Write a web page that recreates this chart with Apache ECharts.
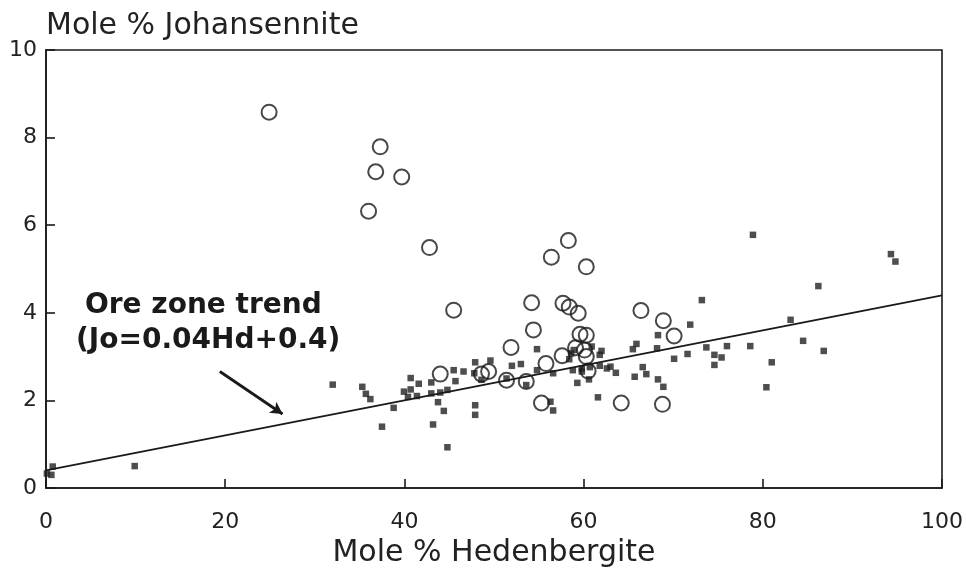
<!DOCTYPE html>
<html>
<head>
<meta charset="utf-8">
<script src="https://cdn.jsdelivr.net/npm/echarts@6/dist/echarts.min.js"></script>
<style>
  html, body { margin: 0; padding: 0; background: #fff; }
  #main { width: 966px; height: 577px; }
</style>
</head>
<body>
<div id="main"></div>
<script>
// open circles: [Hd, Jo]
const circlePts = [
  [24.9, 8.58], [37.3, 7.79], [36.8, 7.22], [39.7, 7.10], [36.0, 6.32], [42.8, 5.49],
  [58.3, 5.65], [56.4, 5.27], [60.3, 5.05],
  [45.5, 4.06], [44.0, 2.60],
  [54.2, 4.23], [57.7, 4.22], [58.4, 4.13], [59.4, 3.99], [66.4, 4.05], [68.9, 3.82],
  [54.4, 3.61], [59.6, 3.51], [60.3, 3.49], [70.1, 3.47],
  [51.9, 3.21], [59.1, 3.20], [60.1, 3.15], [60.3, 3.0], [57.6, 3.02], [55.8, 2.84], [60.5, 2.67],
  [48.6, 2.60], [49.4, 2.66], [51.4, 2.46], [53.6, 2.43],
  [55.3, 1.94], [64.2, 1.94], [68.8, 1.91]
];

// filled squares: [Hd, Jo]
const squarePts = [
  [0.1, 0.33], [0.6, 0.30], [0.75, 0.49], [9.9, 0.50],
  [32.0, 2.36], [35.3, 2.31], [35.7, 2.15], [36.2, 2.03], [38.8, 1.83], [37.5, 1.40],
  [40.7, 2.51], [41.6, 2.38], [39.95, 2.20], [40.7, 2.25], [40.4, 2.08], [41.4, 2.10],
  [43.0, 2.41], [43.0, 2.16], [44.0, 2.18], [44.8, 2.24], [43.75, 1.96], [44.4, 1.76], [43.2, 1.45], [44.8, 0.93],
  [45.5, 2.69], [46.6, 2.66], [45.7, 2.44], [47.9, 2.87], [49.6, 2.91], [47.8, 2.62], [48.6, 2.47],
  [47.9, 1.89], [47.9, 1.67],
  [52.0, 2.79], [53.0, 2.83], [54.8, 3.17], [54.8, 2.69], [51.4, 2.50], [53.6, 2.35],
  [56.6, 2.62], [56.3, 1.97], [56.6, 1.77],
  [58.6, 3.07], [58.4, 2.94], [58.9, 3.15], [58.8, 2.69], [59.3, 2.40], [59.8, 2.73], [59.8, 2.66],
  [60.7, 2.76], [60.6, 2.48], [60.9, 3.23],
  [62.0, 3.13], [61.8, 3.04], [61.8, 2.79], [62.6, 2.73], [63.0, 2.77], [63.6, 2.63], [61.6, 2.07],
  [73.2, 4.29], [71.9, 3.73], [68.3, 3.49], [65.9, 3.29], [65.5, 3.17], [68.2, 3.19], [70.1, 2.95],
  [71.6, 3.06], [73.7, 3.21], [74.6, 3.04], [75.4, 2.98], [74.6, 2.81], [76.0, 3.24],
  [66.6, 2.76], [67.0, 2.60], [65.7, 2.54], [68.3, 2.48], [68.9, 2.31],
  [78.9, 5.78], [94.3, 5.34], [94.8, 5.17], [86.2, 4.61], [83.1, 3.84], [84.5, 3.36],
  [86.8, 3.13], [78.6, 3.24], [81.0, 2.87], [80.4, 2.30]
];

// ore zone trend Jo = 0.04Hd + 0.4
const trendLine = [[0, 0.4], [100, 4.4]];
// arrow pointing at the trend line
const arrowFrom = [19.4, 2.66];
const arrowTo = [26.4, 1.69];

const xTicks = [0, 100, 20];  // min, max, step
const yTicks = [0, 10, 2];

const fontFam = '"DejaVu Sans", "Liberation Sans", sans-serif';
const ink = '#1a1a1a';

const chart = echarts.init(document.getElementById('main'), null, { renderer: 'canvas' });

chart.setOption({
  animation: false,
  backgroundColor: '#fff',
  grid: {
    left: 46, right: 24, top: 50, bottom: 89,
    show: true,
    borderColor: ink,
    borderWidth: 1.6
  },
  xAxis: {
    type: 'value',
    min: xTicks[0], max: xTicks[1], interval: xTicks[2],
    name: 'Mole % Hedenbergite',
    nameLocation: 'middle',
    nameGap: 50,
    nameTextStyle: { fontSize: 30, fontFamily: fontFam, color: '#222' },
    axisLine: { lineStyle: { color: ink, width: 1.6 } },
    axisTick: { inside: true, length: 9, lineStyle: { color: ink, width: 1.6 } },
    axisLabel: { fontSize: 22, fontFamily: fontFam, color: '#222', margin: 23 },
    splitLine: { show: false }
  },
  yAxis: {
    type: 'value',
    min: yTicks[0], max: yTicks[1], interval: yTicks[2],
    name: 'Mole % Johansennite',
    nameLocation: 'end',
    nameGap: 9,
    nameTextStyle: { fontSize: 30, fontFamily: fontFam, color: '#222', align: 'left' },
    axisLine: { lineStyle: { color: ink, width: 1.6 } },
    axisTick: { inside: true, length: 9, lineStyle: { color: ink, width: 1.6 } },
    axisLabel: { fontSize: 22, fontFamily: fontFam, color: '#222', margin: 9 },
    splitLine: { show: false }
  },
  graphic: [
    {
      type: 'text', x: 85, y: 306,
      style: {
        text: 'Ore zone trend', fill: ink,
        font: 'bold 28px "DejaVu Sans", sans-serif',
        verticalAlign: 'middle'
      }
    },
    {
      type: 'text', x: 76, y: 341,
      style: {
        text: '(Jo=0.04Hd+0.4)', fill: ink,
        font: 'bold 28px "DejaVu Sans", sans-serif',
        verticalAlign: 'middle'
      }
    }
  ],
  series: [
    {
      type: 'line',
      data: trendLine,
      showSymbol: false,
      silent: true,
      lineStyle: { color: ink, width: 1.8 },
      markLine: {
        silent: true,
        symbol: ['none', 'arrow'],
        symbolSize: [10, 12],
        label: { show: false },
        lineStyle: { color: ink, width: 2.8, type: 'solid' },
        data: [[{ coord: arrowFrom }, { coord: arrowTo }]]
      }
    },
    {
      type: 'scatter',
      data: squarePts,
      symbol: 'rect',
      symbolSize: 6.5,
      itemStyle: { color: '#222' }
    },
    {
      type: 'scatter',
      data: circlePts,
      symbol: 'circle',
      symbolSize: 15,
      itemStyle: { color: 'rgba(255,255,255,0)', borderColor: ink, borderWidth: 2 }
    }
  ]
});
</script>
</body>
</html>
